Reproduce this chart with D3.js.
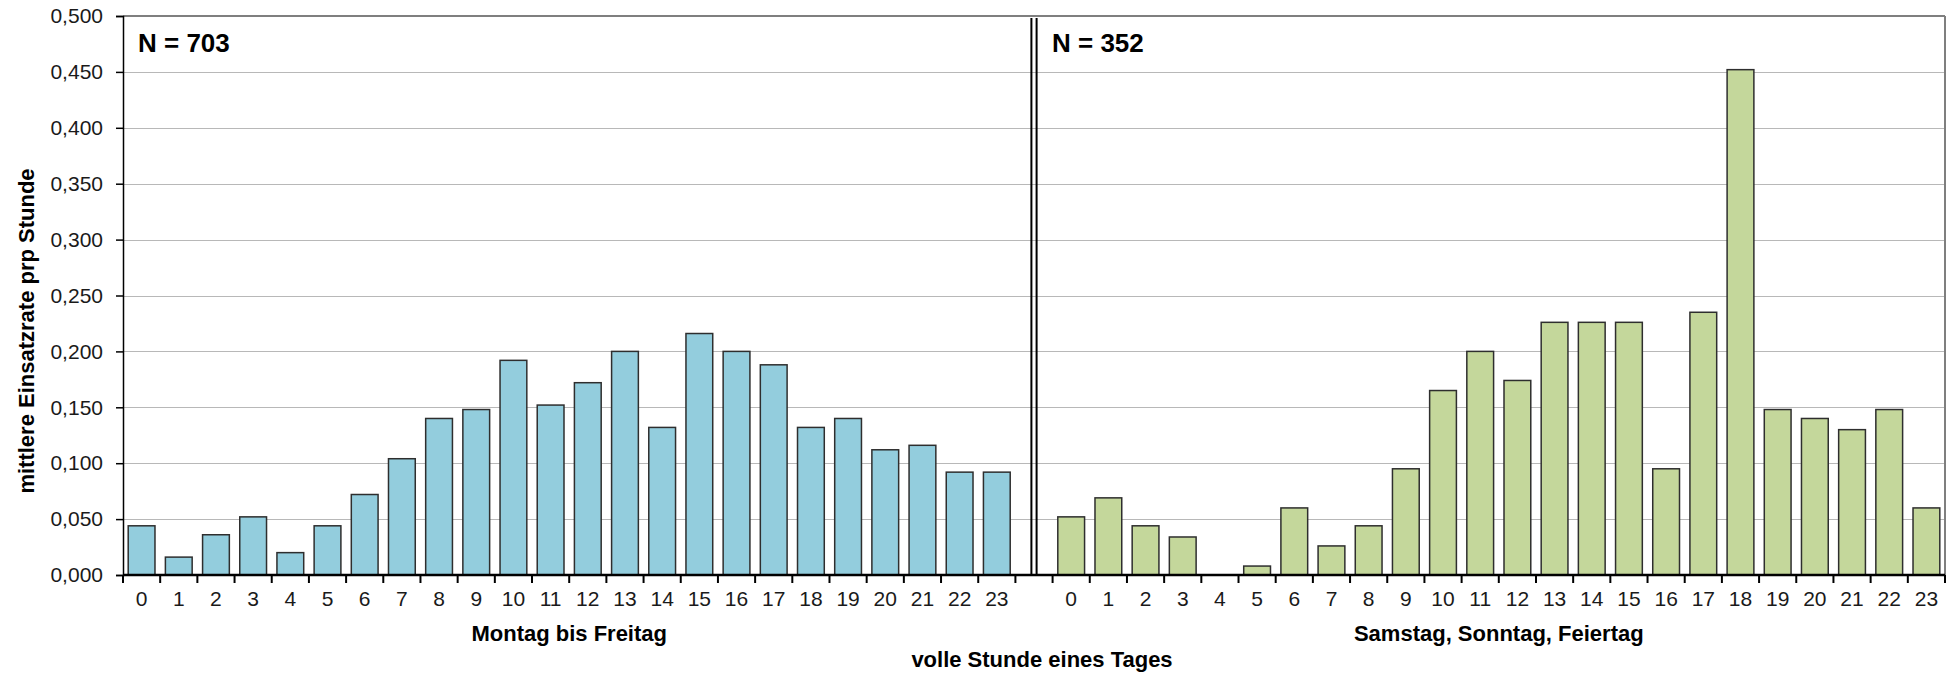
<!DOCTYPE html>
<html>
<head>
<meta charset="utf-8">
<script src="https://cdn.jsdelivr.net/npm/d3@7"></script>
<style>
  html, body { margin: 0; padding: 0; background: #fff; }
  svg { display: block; font-family: "Liberation Sans", Arial, sans-serif; }
</style>
</head>
<body>
<svg id="chart" width="1951" height="673"></svg>
<script>
// ---- data ----
const hours = d3.range(0, 24).map(String);
const weekdayValues = [0.044, 0.016, 0.036, 0.052, 0.020, 0.044, 0.072, 0.104, 0.140, 0.148, 0.192, 0.152,
                       0.172, 0.200, 0.132, 0.216, 0.200, 0.188, 0.132, 0.140, 0.112, 0.116, 0.092, 0.092];
const weekendValues = [0.052, 0.069, 0.044, 0.034, 0.000, 0.008, 0.060, 0.026, 0.044, 0.095, 0.165, 0.200,
                       0.174, 0.226, 0.226, 0.226, 0.095, 0.235, 0.452, 0.148, 0.140, 0.130, 0.148, 0.060];
const yTicks = [0, 0.05, 0.10, 0.15, 0.20, 0.25, 0.30, 0.35, 0.40, 0.45, 0.50];
const groupLabels = ["Montag bis Freitag", "Samstag, Sonntag, Feiertag"];
const nLabels = ["N = 703", "N = 352"];
const xTitle = "volle Stunde eines Tages";
const yTitle = "mittlere Einsatzrate prp Stunde";
const colors = ["#93CDDD", "#C4D79B"];

// ---- layout ----
const plotLeft = 123, plotRight = 1945, plotTop = 16, plotBottom = 575;
const svg = d3.select("#chart");

const keys = hours.map(h => "W" + h).concat(["gap"], hours.map(h => "E" + h));
const x = d3.scaleBand().domain(keys).range([plotLeft, plotRight]).paddingInner(0.28).paddingOuter(0.14);
const y = d3.scaleLinear().domain([0, 0.5]).range([plotBottom, plotTop]);
const step = x.step();
const fmt = d => d3.format(".3f")(d).replace(".", ",");

// gridlines
svg.append("g").selectAll("line").data(yTicks.filter(d => d > 0 && d < 0.5)).join("line")
  .attr("x1", plotLeft).attr("x2", plotRight)
  .attr("y1", d => Math.round(y(d)) + 0.5).attr("y2", d => Math.round(y(d)) + 0.5)
  .attr("stroke", "#b8b8b8").attr("stroke-width", 1.2);

// top & right border
svg.append("line").attr("x1", plotLeft).attr("x2", plotRight).attr("y1", y(0.5)).attr("y2", y(0.5))
  .attr("stroke", "#7f7f7f").attr("stroke-width", 2);
svg.append("line").attr("x1", plotRight).attr("x2", plotRight).attr("y1", y(0.5)).attr("y2", plotBottom)
  .attr("stroke", "#7f7f7f").attr("stroke-width", 2);

// bars
const rows = hours.map((h, i) => ({ key: "W" + h, v: weekdayValues[i], g: 0 }))
  .concat(hours.map((h, i) => ({ key: "E" + h, v: weekendValues[i], g: 1 })));
svg.append("g").selectAll("rect").data(rows.filter(d => d.v > 0)).join("rect")
  .attr("x", d => x(d.key)).attr("width", x.bandwidth())
  .attr("y", d => y(d.v)).attr("height", d => y(0) - y(d.v))
  .attr("fill", d => colors[d.g]).attr("stroke", "#2e2e2e").attr("stroke-width", 1.5);

// separator double line
const gapCenter = x("gap") + x.bandwidth() / 2;
[-2.6, 2.6].forEach(off => {
  svg.append("line").attr("x1", gapCenter + off).attr("x2", gapCenter + off)
    .attr("y1", y(0.5) + 2).attr("y2", plotBottom)
    .attr("stroke", "#000").attr("stroke-width", 2);
});

// y axis
const yAxis = svg.append("g").attr("transform", `translate(${plotLeft},0)`)
  .call(d3.axisLeft(y).tickValues(yTicks).tickFormat(fmt).tickSize(7).tickPadding(13));
yAxis.select(".domain").attr("stroke", "#000").attr("stroke-width", 1.5);
yAxis.selectAll(".tick line").attr("stroke", "#000").attr("stroke-width", 1.5);
yAxis.selectAll("text").attr("font-size", 21).attr("fill", "#1a1a1a")
  .attr("font-family", "'Liberation Sans', Arial, sans-serif");

// x axis (labels)
const xAxis = svg.append("g").attr("transform", `translate(0,${plotBottom})`)
  .call(d3.axisBottom(x).tickSize(0).tickPadding(16)
    .tickFormat(k => k === "gap" ? "" : k.slice(1)));
xAxis.select(".domain").remove();
xAxis.selectAll("text").attr("font-size", 21).attr("fill", "#1a1a1a")
  .attr("font-family", "'Liberation Sans', Arial, sans-serif");

// x axis line and boundary ticks
svg.append("line").attr("x1", plotLeft).attr("x2", plotRight).attr("y1", plotBottom).attr("y2", plotBottom)
  .attr("stroke", "#000").attr("stroke-width", 2.5);
const boundaries = keys.map(k => x(k) - (step - x.bandwidth()) / 2).concat([plotRight]);
svg.append("g").selectAll("line").data(boundaries).join("line")
  .attr("x1", d => d).attr("x2", d => d).attr("y1", plotBottom).attr("y2", plotBottom + 8)
  .attr("stroke", "#000").attr("stroke-width", 2);

// group labels
const groupCenters = [
  (x("W0") + x("W23") + x.bandwidth()) / 2,
  (x("E0") + x("E23") + x.bandwidth()) / 2
];
groupLabels.forEach((t, i) => {
  svg.append("text").attr("x", groupCenters[i]).attr("y", 641)
    .attr("text-anchor", "middle").attr("font-size", 22).attr("font-weight", "bold")
    .attr("fill", "#000").text(t);
});
svg.append("text").attr("x", (plotLeft + plotRight) / 2 + 8).attr("y", 667)
  .attr("text-anchor", "middle").attr("font-size", 22).attr("font-weight", "bold")
  .attr("fill", "#000").text(xTitle);

// y title
svg.append("text").attr("transform", "translate(34,331) rotate(-90)")
  .attr("text-anchor", "middle").attr("font-size", 22).attr("font-weight", "bold")
  .attr("fill", "#000").text(yTitle);

// N labels
svg.append("text").attr("x", plotLeft + 15).attr("y", 52).attr("font-size", 26)
  .attr("font-weight", "bold").attr("fill", "#000").text(nLabels[0]);
svg.append("text").attr("x", gapCenter + 18).attr("y", 52).attr("font-size", 26)
  .attr("font-weight", "bold").attr("fill", "#000").text(nLabels[1]);
</script>
</body>
</html>
